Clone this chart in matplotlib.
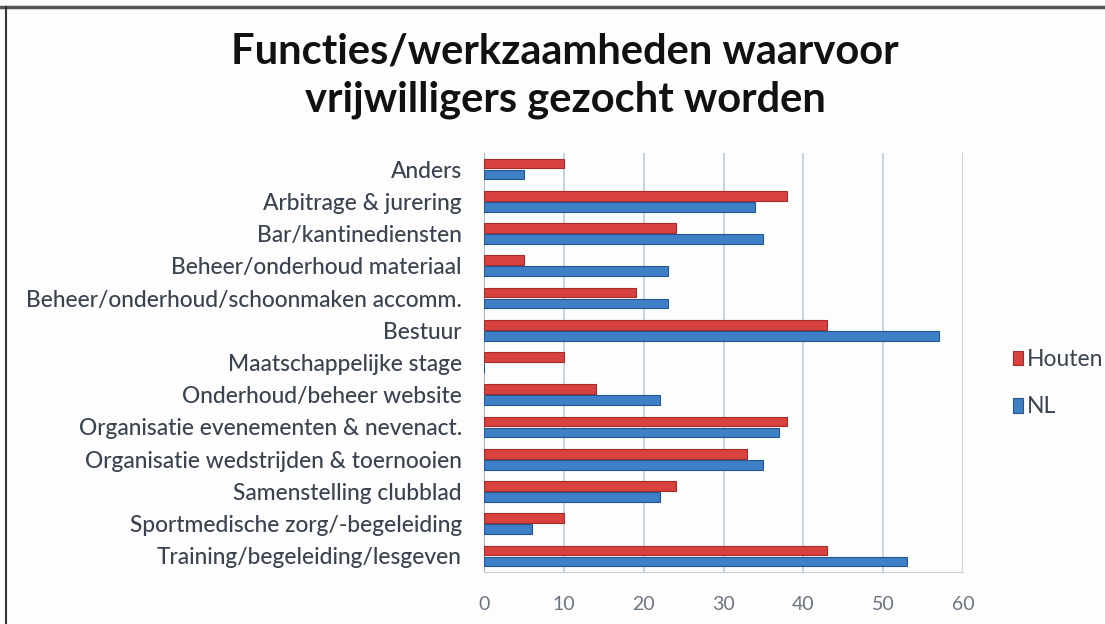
import matplotlib
matplotlib.use("Agg")
import matplotlib.pyplot as plt
import numpy as np
from matplotlib.lines import Line2D

categories = [
    "Anders",
    "Arbitrage & jurering",
    "Bar/kantinediensten",
    "Beheer/onderhoud materiaal",
    "Beheer/onderhoud/schoonmaken accomm.",
    "Bestuur",
    "Maatschappelijke stage",
    "Onderhoud/beheer website",
    "Organisatie evenementen & nevenact.",
    "Organisatie wedstrijden & toernooien",
    "Samenstelling clubblad",
    "Sportmedische zorg/-begeleiding",
    "Training/begeleiding/lesgeven",
]
houten = [10, 38, 24, 5, 19, 43, 10, 14, 38, 33, 24, 10, 43]
nl = [5, 34, 35, 23, 23, 57, 0, 22, 37, 35, 22, 6, 53]
x_ticks = [0, 10, 20, 30, 40, 50, 60]
title = "Functies/werkzaamheden waarvoor\nvrijwilligers gezocht worden"

plt.rcParams['font.family'] = ['Lato', 'DejaVu Sans']

W, H = 1105, 624
fig = plt.figure(figsize=(W / 100, H / 100), dpi=100)
fig.patch.set_facecolor('#fdfdfd')

ax = fig.add_axes([484 / W, 1 - 572 / H, 479 / W, 419 / H])
ax.set_facecolor('#fdfdfd')

y = np.arange(len(categories))
h = 0.3
off = 0.17
red = '#d9413f'
red_edge = '#a52a2a'
blue = '#3f7fc6'
blue_edge = '#25578f'
ax.barh(y - off, houten, height=h, color=red, edgecolor=red_edge, linewidth=0.8, zorder=3, label='Houten')
ax.barh(y + off, nl, height=h, color=blue, edgecolor=blue_edge, linewidth=0.8, zorder=3, label='NL')

ax.set_xlim(0, 60)
ax.set_ylim(len(categories) - 0.5, -0.5)
ax.set_xticks(x_ticks)
ax.set_xticklabels([str(t) for t in x_ticks])
ax.set_yticks(y)
ax.set_yticklabels(categories)
ax.tick_params(axis='y', length=0, pad=16, labelsize=16.4, labelcolor='#3a4350')
ax.tick_params(axis='x', length=0, pad=17, labelsize=14, labelcolor='#6b7580')
for lab in ax.get_yticklabels():
    lab.set_fontweight('medium')
ax.grid(axis='x', color='#b9c8d6', linewidth=1.1, zorder=0)
for s in ['top', 'right']:
    ax.spines[s].set_visible(False)
ax.spines['left'].set_color('#b0b8c0')
ax.spines['bottom'].set_color('#c8d0d8')

fig.text(565 / W, 1 - 76 / H, title, ha='center', va='center', fontsize=30,
         fontweight='bold', color='#111111', linespacing=1.32)

leg = fig.legend(loc='upper left', bbox_to_anchor=(1013 / W, 1 - 349 / H),
                 frameon=False, fontsize=16.5, handlelength=0.45, handleheight=0.6,
                 handletextpad=0.15, labelspacing=1.15, labelcolor='#3a4350',
                 borderpad=0, borderaxespad=0)

fig.add_artist(Line2D([0, 1], [1 - 7 / H, 1 - 7 / H], color='#555555', linewidth=2.5,
                      transform=fig.transFigure))
fig.add_artist(Line2D([6 / W, 6 / W], [0, 1 - 7 / H], color='#333333', linewidth=1.5,
                      transform=fig.transFigure))

fig.savefig('out.png', dpi=100, facecolor=fig.get_facecolor())
